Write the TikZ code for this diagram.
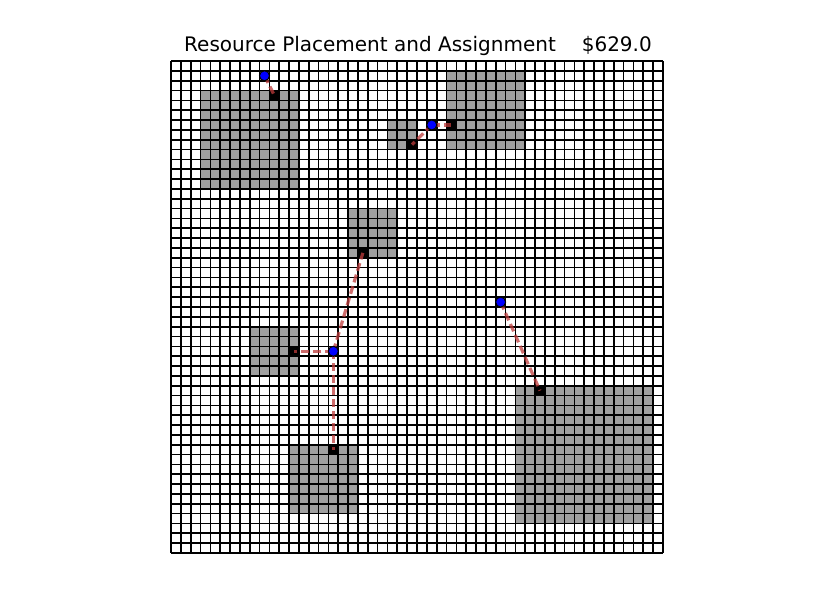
\documentclass[tikz,border=0pt]{standalone}
\usepackage{fontspec}
\setmainfont{DejaVu Sans}
\definecolor{cellgray}{RGB}{160,160,160}
\definecolor{linkred}{RGB}{190,60,60}
\tikzset{
  blockcell/.style={draw=none,fill=black,minimum size=9.84pt,inner sep=0pt,outer sep=0pt},
  userdot/.style={circle,draw=black,line width=1pt,fill=blue,minimum size=10pt,inner sep=0pt},
  link/.style={draw=linkred,draw opacity=0.75,line width=3.2pt,dash pattern=on 8pt off 4pt},
  area/.style={fill=cellgray,draw=none},
  gridline/.style={draw=black,line width=1.7pt},
  titletext/.style={font=\fontsize{20}{24}\selectfont,inner sep=0pt}
}
\begin{document}
\begin{tikzpicture}[x=1pt,y=-1pt]
\useasboundingbox (0,0) rectangle (815,615);
\fill[white] (0,0) rectangle (815,615);
\node[titletext,anchor=base west] (title) at (184,52) {Resource Placement and Assignment};
\node[titletext,anchor=base east] (cost) at (652,52) {\$629.0};
\begin{scope}[shift={(171,61)},x=9.84pt,y=-9.84pt]
  % gray areas
  \fill[area] (3,3) rectangle (13,13);
  \fill[area] (28,1) rectangle (36,9);
  \fill[area] (22,6) rectangle (25,9);
  \fill[area] (18,15) rectangle (23,20);
  \fill[area] (8,27) rectangle (13,32);
  \fill[area] (12,39) rectangle (19,46);
  \fill[area] (35,33) rectangle (49,47);
  % black cells
  \node[blockcell] (b1) at (10.5,3.5) {};
  \node[blockcell] (b2) at (28.5,6.5) {};
  \node[blockcell] (b3) at (24.5,8.5) {};
  \node[blockcell] (b4) at (19.5,19.5) {};
  \node[blockcell] (b5) at (12.5,29.5) {};
  \node[blockcell] (b6) at (16.5,39.5) {};
  \node[blockcell] (b7) at (37.5,33.5) {};
  % grid
  \foreach \k in {0,...,50} {
    \draw[gridline] (\k,0) -- (\k,50);
    \draw[gridline] (0,\k) -- (50,\k);
  }
  % users
  \coordinate (u1) at (9.5,1.5);
  \coordinate (u2) at (26.5,6.5);
  \coordinate (u3) at (16.5,29.5);
  \coordinate (u4) at (33.5,24.5);
  \draw[link] (u1) -- (b1.center);
  \draw[link] (u2) -- (b2.center);
  \draw[link] (u2) -- (b3.center);
  \draw[link] (u3) -- (b4.center);
  \draw[link] (u3) -- (b5.center);
  \draw[link] (u3) -- (b6.center);
  \draw[link] (u4) -- (b7.center);
  \node[userdot] (d1) at (u1) {};
  \node[userdot] (d2) at (u2) {};
  \node[userdot] (d3) at (u3) {};
  \node[userdot] (d4) at (u4) {};
\end{scope}
\end{tikzpicture}
\end{document}
